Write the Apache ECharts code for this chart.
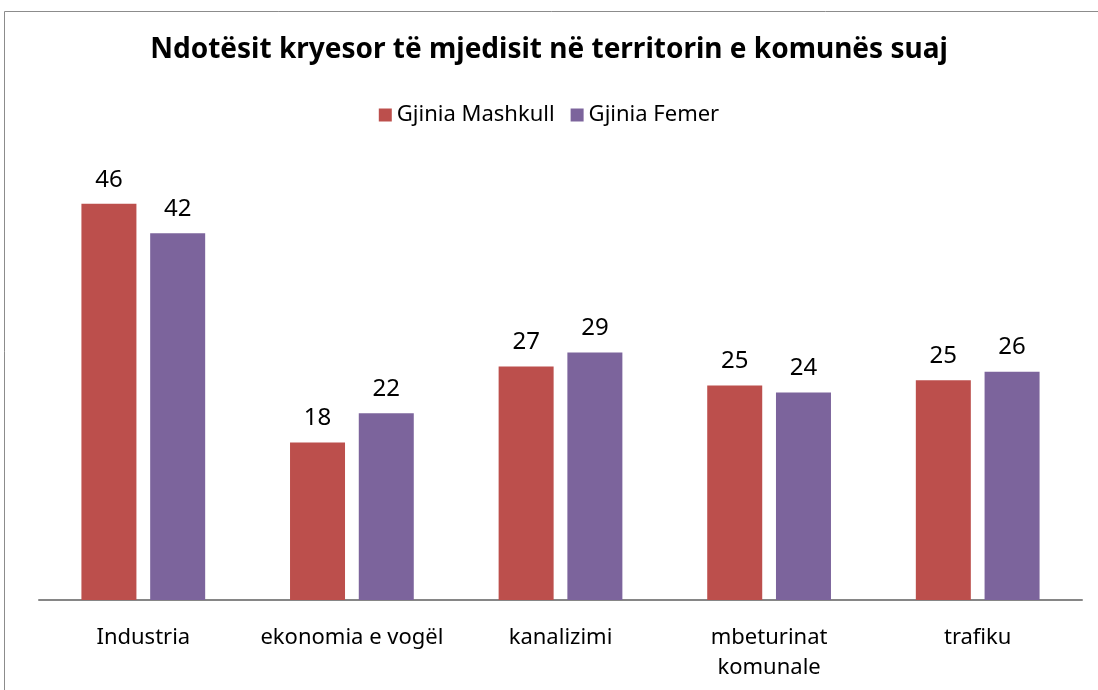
<!DOCTYPE html>
<html lang="sq">
<head>
<meta charset="UTF-8">
<script src="https://cdn.jsdelivr.net/npm/echarts@6/dist/echarts.min.js"></script>
<style>
  html, body { margin: 0; padding: 0; background: #fff; }
  #main { width: 1098px; height: 690px; }
</style>
</head>
<body>
<div id="main"></div>
<script>
var categories = ['Industria', 'ekonomia e vogël', 'kanalizimi', 'mbeturinat\nkomunale', 'trafiku'];
// values; labels show them rounded
var maleValues = [45.8, 18.2, 27.0, 24.8, 25.4];
var femaleValues = [42.4, 21.6, 28.6, 24.0, 26.4];
var seriesNames = ['Gjinia Mashkull', 'Gjinia Femer'];

var FONT = 'Noto Sans';
var chart = echarts.init(document.getElementById('main'));

var labelStyle = {
    show: true,
    position: 'top',
    distance: 12,
    color: '#000',
    fontSize: 24,
    fontFamily: FONT,
    formatter: function (p) { return Math.round(p.value); }
};

chart.setOption({
    backgroundColor: '#fff',
    animation: false,
    title: {
        text: 'Ndotësit kryesor të mjedisit në territorin e komunës suaj',
        left: 'center',
        top: 31,
        textStyle: { fontSize: 28, fontWeight: 'bold', color: '#000', fontFamily: FONT }
    },
    legend: {
        top: 99,
        left: 'center',
        itemWidth: 13,
        itemHeight: 13,
        itemGap: 16,
        icon: 'rect',
        textStyle: { fontSize: 22, color: '#000', fontFamily: FONT }
    },
    graphic: [{
        type: 'rect',
        shape: { x: 4.5, y: 11.5, width: 1200, height: 800 },
        style: { fill: null, stroke: '#8c8c8c', lineWidth: 1 },
        silent: true
    }],
    grid: { left: 39, right: 16, top: 167.5, bottom: 90, containLabel: false },
    xAxis: {
        type: 'category',
        data: categories,
        axisLine: { lineStyle: { color: '#868686', width: 2 } },
        axisTick: { show: false },
        axisLabel: {
            color: '#000',
            fontSize: 22,
            fontFamily: FONT,
            margin: 23,
            lineHeight: 30,
            interval: 0
        }
    },
    yAxis: {
        type: 'value',
        min: 0,
        max: 50,
        show: false,
        splitLine: { show: false }
    },
    series: [{
        name: seriesNames[0],
        type: 'bar',
        data: maleValues,
        barWidth: 55,
        barGap: '25%',
        itemStyle: { color: '#bc4f4c' },
        label: labelStyle
    }, {
        name: seriesNames[1],
        type: 'bar',
        data: femaleValues,
        barWidth: 55,
        itemStyle: { color: '#7c649c' },
        label: labelStyle
    }]
});
</script>
</body>
</html>
